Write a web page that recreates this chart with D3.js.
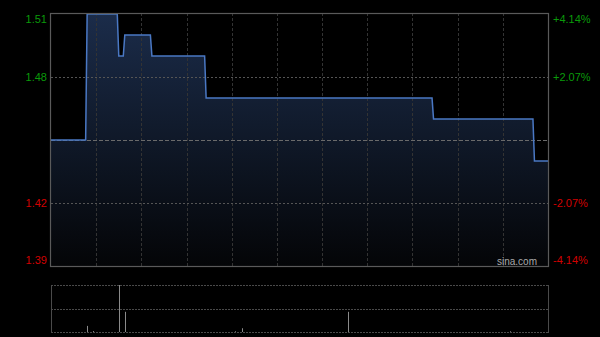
<!DOCTYPE html>
<html>
<head>
<meta charset="utf-8">
<script src="https://cdn.jsdelivr.net/npm/d3@7"></script>
<style>
  html, body { margin: 0; padding: 0; background: #000; }
  svg { display: block; font-family: "Liberation Sans", Arial, sans-serif; }
</style>
</head>
<body>
<svg id="chart" width="600" height="337"></svg>
<script>
"use strict";

// price line, points (minute index from open, price)
var priceMinutes = [0, 23, 24, 44, 45, 48, 49, 66, 67, 102, 103, 253, 254, 320, 321, 330];
var prices = [1.45, 1.45, 1.51, 1.51, 1.49, 1.49, 1.50, 1.50, 1.49, 1.49, 1.47, 1.47, 1.46, 1.46, 1.44, 1.44];

// volume bars
var volMinutes = [24, 28, 45, 49, 122, 127, 197, 305];
var volumes = [13000, 2000, 100000, 43000, 1500, 8000, 43000, 1500];

var prevClose = 1.45;
var priceTicks = [1.51, 1.48, 1.42, 1.39];
var pctLabels = ["+4.14%", "+2.07%", "-2.07%", "-4.14%"];
var gridMinutes = [30, 60, 90, 120, 150, 180, 210, 240, 270, 300];

(function () {
    var margin = { left: 51, right: 52 },
        width = 600 - margin.left - margin.right,
        mainTop = 13, mainBottom = 266,
        volTop = 285, volBottom = 332;

    var svg = d3.select("#chart");

    var xScale = d3.scaleLinear().domain([0, 330]).range([margin.left, margin.left + width]);
    var yScale = d3.scaleLinear().domain([1.39, 1.51]).range([mainBottom, mainTop + 1]);
    var vScale = d3.scaleLinear().domain([0, d3.max(volumes)]).range([volBottom, volTop]);

    var defs = svg.append("defs");
    var grad = defs.append("linearGradient")
        .attr("id", "fillGrad")
        .attr("x1", 0).attr("y1", 0).attr("x2", 0).attr("y2", 1);
    grad.append("stop").attr("offset", "0%").attr("stop-color", "#1b2c4a");
    grad.append("stop").attr("offset", "100%").attr("stop-color", "#040507");

    var data = priceMinutes.map(function (m, i) { return { m: m, p: prices[i] }; });

    // area under price
    var area = d3.area()
        .x(function (d) { return xScale(d.m); })
        .y0(mainBottom)
        .y1(function (d) { return yScale(d.p); });
    svg.append("path")
        .datum(data)
        .attr("d", area)
        .attr("fill", "url(#fillGrad)");

    // vertical grid
    svg.append("g").selectAll("line")
        .data(gridMinutes)
        .enter()
        .append("line")
        .attr("x1", function (d) { return Math.round(xScale(d)) + 0.5; })
        .attr("x2", function (d) { return Math.round(xScale(d)) + 0.5; })
        .attr("y1", mainTop)
        .attr("y2", mainBottom)
        .attr("stroke", "#333")
        .attr("stroke-dasharray", "3,2");

    // horizontal grid
    svg.append("g").selectAll("line")
        .data([1.48, 1.42])
        .enter()
        .append("line")
        .attr("x1", margin.left)
        .attr("x2", margin.left + width)
        .attr("y1", function (d) { return Math.round(yScale(d)) + 0.5; })
        .attr("y2", function (d) { return Math.round(yScale(d)) + 0.5; })
        .attr("stroke", "#555")
        .attr("stroke-dasharray", "2,2");

    // previous close line
    svg.append("line")
        .attr("x1", margin.left)
        .attr("x2", margin.left + width)
        .attr("y1", Math.round(yScale(prevClose)) + 0.5)
        .attr("y2", Math.round(yScale(prevClose)) + 0.5)
        .attr("stroke", "#6a6a6a")
        .attr("stroke-dasharray", "4,2");

    // price line
    var line = d3.line()
        .x(function (d) { return xScale(d.m); })
        .y(function (d) { return yScale(d.p); });
    svg.append("path")
        .datum(data)
        .attr("d", line)
        .attr("fill", "none")
        .attr("stroke", "#4a78c4")
        .attr("stroke-width", 1.5);

    // frame
    svg.append("rect")
        .attr("x", margin.left - 0.5)
        .attr("y", mainTop + 0.5)
        .attr("width", width + 1)
        .attr("height", mainBottom - mainTop)
        .attr("fill", "none")
        .attr("stroke", "#5a5a5a")
        .attr("stroke-width", 1.2);

    // left labels
    svg.append("g").selectAll("text")
        .data(priceTicks)
        .enter()
        .append("text")
        .attr("x", margin.left - 4)
        .attr("y", function (d, i) {
            var y = yScale(d);
            if (i === 0) y = mainTop + 6;
            if (i === priceTicks.length - 1) y = mainBottom - 6;
            return y + 4;
        })
        .attr("text-anchor", "end")
        .attr("font-size", 11)
        .attr("fill", function (d) { return d > prevClose ? "#0a9a0a" : "#d20000"; })
        .text(function (d) { return d.toFixed(2); });

    // right labels
    svg.append("g").selectAll("text")
        .data(priceTicks)
        .enter()
        .append("text")
        .attr("x", margin.left + width + 5)
        .attr("y", function (d, i) {
            var y = yScale(d);
            if (i === 0) y = mainTop + 6;
            if (i === priceTicks.length - 1) y = mainBottom - 6;
            return y + 4;
        })
        .attr("font-size", 11)
        .attr("fill", function (d) { return d > prevClose ? "#0a9a0a" : "#d20000"; })
        .text(function (d, i) { return pctLabels[i]; });

    svg.append("text")
        .attr("x", 537)
        .attr("y", 265)
        .attr("text-anchor", "end")
        .attr("font-size", 10)
        .attr("fill", "#aaa")
        .text("sina.com");

    // volume panel
    var vg = svg.append("g");
    [volTop, (volTop + volBottom) / 2, volBottom].forEach(function (y) {
        vg.append("line")
            .attr("x1", margin.left)
            .attr("x2", margin.left + width)
            .attr("y1", Math.round(y) + 0.5)
            .attr("y2", Math.round(y) + 0.5)
            .attr("stroke", "#4a4a4a")
            .attr("stroke-dasharray", "2,1");
    });
    [margin.left, margin.left + width].forEach(function (x) {
        vg.append("line")
            .attr("x1", x + 0.5)
            .attr("x2", x + 0.5)
            .attr("y1", volTop)
            .attr("y2", volBottom + 1)
            .attr("stroke", "#4a4a4a");
    });

    vg.selectAll("rect.vol")
        .data(volMinutes)
        .enter()
        .append("rect")
        .attr("class", "vol")
        .attr("x", function (d) { return Math.round(xScale(d)); })
        .attr("y", function (d, i) { return vScale(volumes[i]); })
        .attr("width", 1)
        .attr("height", function (d, i) { return volBottom - vScale(volumes[i]); })
        .attr("fill", "#8a8a8a");
})();
</script>
</body>
</html>
